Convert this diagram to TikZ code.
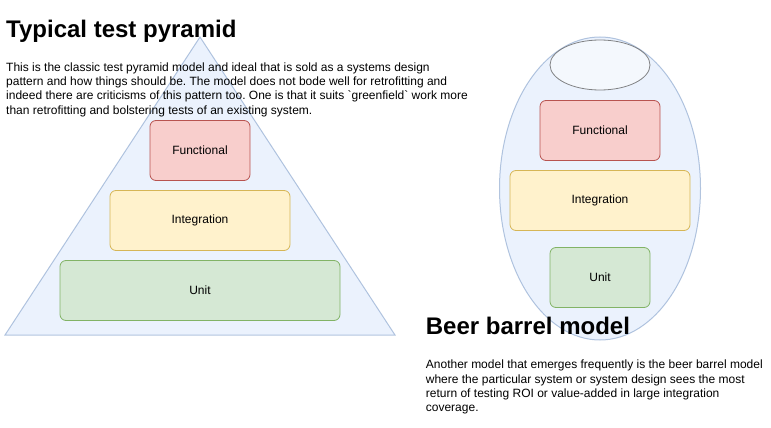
\documentclass[tikz,border=0pt]{standalone}
\usepackage{fontspec}
\setmainfont{Liberation Sans}[Ligatures=TeXOff]
\frenchspacing
\definecolor{blueF}{HTML}{DAE8FC}
\definecolor{blueS}{HTML}{6C8EBF}
\definecolor{redF}{HTML}{F8CECC}
\definecolor{redS}{HTML}{B85450}
\definecolor{yelF}{HTML}{FFF2CC}
\definecolor{yelS}{HTML}{D6B656}
\definecolor{grnF}{HTML}{D5E8D4}
\definecolor{grnS}{HTML}{82B366}
\definecolor{capS}{HTML}{666666}
\begin{document}
\begin{tikzpicture}[x=1pt,y=-1pt,
  bigshape/.style={fill=blueF, fill opacity=0.55, draw=blueS, draw opacity=0.5, line width=1pt},
  box/.style={rounded corners=6pt, line width=0.8pt, inner sep=0pt,
    font=\fontsize{12}{14}\selectfont, text opacity=1},
  redbox/.style={box, fill=redF, draw=redS},
  yelbox/.style={box, fill=yelF, draw=yelS},
  grnbox/.style={box, fill=grnF, draw=grnS},
  heading/.style={font=\fontsize{24}{28}\bfseries\selectfont, inner sep=0pt, anchor=base west},
  para/.style={font=\fontsize{12}{14.3}\selectfont, inner sep=0pt, anchor=north west, align=left},
]
\useasboundingbox (0,0) rectangle (771,428);
% pyramid
\draw[bigshape] (200,37) -- (395,335) -- (5,335) -- cycle;
\node[redbox, minimum width=100pt, minimum height=60pt] (pfun) at (200,150.5) {Functional};
\node[yelbox, minimum width=180pt, minimum height=60pt] (pint) at (200,220.5) {Integration};
\node[grnbox, minimum width=280pt, minimum height=60pt] (punit) at (200,290.5) {Unit};
% barrel
\draw[bigshape] (600,188.5) ellipse [x radius=100.5pt, y radius=151.5pt];
\draw[fill=white, fill opacity=0.5, draw=capS, draw opacity=0.8, line width=0.8pt] (600,65) ellipse [x radius=50pt, y radius=25pt];
\node[redbox, minimum width=120pt, minimum height=60pt] (bfun) at (600,130.5) {Functional};
\node[yelbox, minimum width=180pt, minimum height=60pt] (bint) at (600,200.5) {Integration};
\node[grnbox, minimum width=100pt, minimum height=60pt] (bunit) at (600,277.5) {Unit};
% texts
\node[heading] (t1) at (6,37.3) {Typical test pyramid};
\node[para] (p1) at (6,62.5) {This is the classic test pyramid model and ideal that is sold as a systems design\\pattern and how things should be. The model does not bode well for retrofitting and\\indeed there are criticisms of this pattern too. One is that it suits `greenfield` work more\\than retrofitting and bolstering tests of an existing system.};
\node[heading] (t2) at (425.7,334.3) {Beer barrel model};
\node[para] (p2) at (425.7,360) {Another model that emerges frequently is the beer barrel model\\where the particular system or system design sees the most\\return of testing ROI or value-added in large integration\\coverage.};
\end{tikzpicture}
\end{document}
